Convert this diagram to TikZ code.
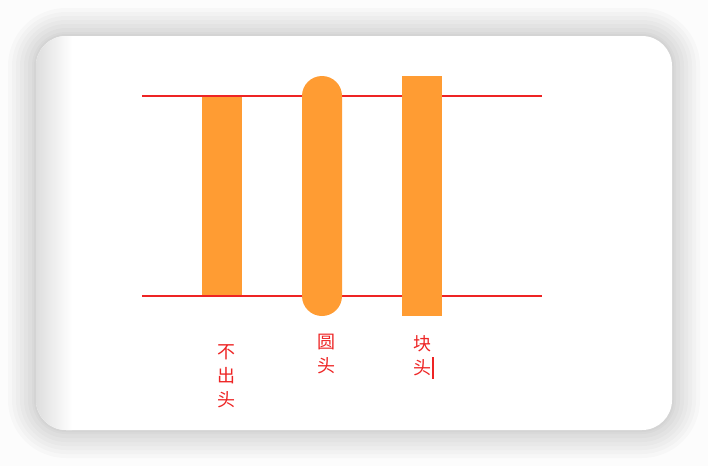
\documentclass[tikz,border=0pt]{standalone}
\usepackage{fontspec}
\newfontfamily\cjk{Noto Sans CJK SC}
\usetikzlibrary{positioning}
\definecolor{barorange}{HTML}{FF9C33}
\definecolor{capred}{HTML}{EE2424}
\tikzset{
  guide/.style={draw=capred, line width=1.6pt},
  bar/.style={fill=barorange, draw=none},
  lbl/.style={text=capred, font=\cjk\fontsize{18pt}{24pt}\selectfont, align=center, inner sep=0pt},
}
\begin{document}
\begin{tikzpicture}[x=1pt, y=-1pt]
  \useasboundingbox (0,0) rectangle (708,466);
  \fill[white!99!black] (0,0) rectangle (708,466);
  % card shadow
  \foreach \d in {28,24,20,16,12,8,4,2}
    \fill[black, opacity=0.018, rounded corners=30+\d] (36-\d,36-\d) rectangle (672+\d,430+\d);
  % card
  \fill[white, rounded corners=30] (36,36) rectangle (672,430);
  \begin{scope}
    \clip[rounded corners=30] (36,36) rectangle (672,430);
    \shade[left color=black!13, right color=white] (36,36) rectangle (72,430);
  \end{scope}
  % guide lines
  \coordinate (ltop) at (142,96);
  \coordinate (rtop) at (542,96);
  \coordinate (lbot) at (142,296);
  \coordinate (rbot) at (542,296);
  \draw[guide] (ltop) -- (rtop);
  \draw[guide] (lbot) -- (rbot);
  % bars
  \fill[bar] (202,97) rectangle (242,295);
  \fill[bar, rounded corners=20] (302,76) rectangle (342,316);
  \fill[bar] (402,76) rectangle (442,316);
  % labels
  \node[lbl] (butt) at (226,376) {不\\出\\头};
  \node[lbl] (round) at (326,354) {圆\\头};
  \node[lbl] (square) at (422,356) {块\\头};
  \draw[capred, line width=1.2pt] (433,357) -- (433,379);
\end{tikzpicture}
\end{document}
